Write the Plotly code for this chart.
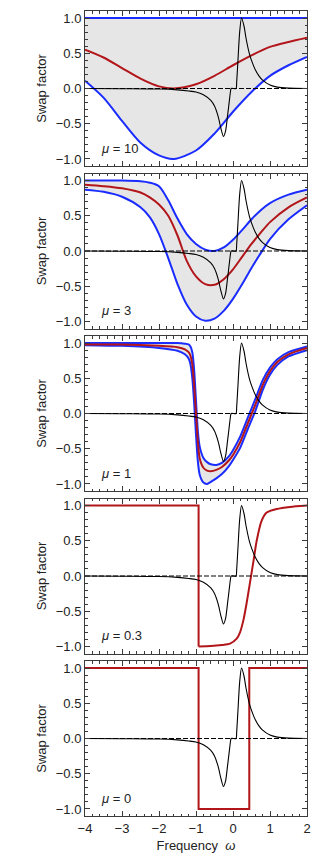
import plotly.graph_objects as go

# ---------------- data ----------------
x_range = [-4, 2]
y_range = [-1.1, 1.1]
x_ticks = [-4, -3, -2, -1, 0, 1, 2]
x_ticklabels = ["−4", "−3", "−2", "−1", "0", "1", "2"]
y_ticks = [-1.0, -0.5, 0.0, 0.5, 1.0]
y_ticklabels = ["−1.0", "−0.5", "0.0", "0.5", "1.0"]
mu_labels = ["10", "3", "1", "0.3", "0"]

# black response curve (same in every panel)
resp_x = [-4, -3, -2, -1.5, -1.2, -1.0, -0.8, -0.6, -0.5, -0.4, -0.33, -0.26, -0.2,
          -0.15, -0.1, -0.07, -0.05, 0.08, 0.1, 0.13, 0.18, 0.23, 0.3, 0.35, 0.44,
          0.5, 0.6, 0.7, 0.8, 1.0, 1.2, 1.5, 2]
resp_y = [0, -0.003, -0.008, -0.02, -0.035, -0.05, -0.09, -0.17, -0.25, -0.4, -0.56,
          -0.68, -0.6, -0.4, -0.18, -0.05, 0, 0, 0.1, 0.36, 0.8, 1.0, 0.88, 0.72, 0.5,
          0.4, 0.27, 0.18, 0.12, 0.05, 0.02, 0.005, 0]

zero_x = [-4, 2]
zero_y = [0, 0]

# mu = 10
m10_x = [-4, -3.5, -3, -2.5, -2, -1.6, -1, -0.5, 0, 0.5, 1, 1.5, 2]
m10_upper = [1, 1, 1, 1, 1, 1, 1, 1, 1, 1, 1, 1, 1]
m10_lower = [0.11, -0.13, -0.46, -0.77, -0.95, -1.0, -0.88, -0.64, -0.33, -0.05, 0.18, 0.33, 0.45]
m10_mid = [0.55, 0.44, 0.29, 0.14, 0.03, 0.0, 0.06, 0.18, 0.33, 0.47, 0.59, 0.66, 0.72]

# mu = 3
m3_x = [-4, -3.5, -3, -2.5, -2.25, -2, -1.75, -1.5, -1.25, -1, -0.75, -0.5, -0.25,
        0, 0.25, 0.5, 0.75, 1, 1.5, 2]
m3_upper = [1.0, 1.0, 1.0, 0.99, 0.97, 0.92, 0.72, 0.46, 0.24, 0.1, 0.02, 0.0, 0.05,
            0.16, 0.3, 0.45, 0.58, 0.68, 0.8, 0.87]
m3_lower = [0.87, 0.84, 0.77, 0.62, 0.48, 0.24, -0.1, -0.47, -0.76, -0.93, -0.99, -0.96,
            -0.85, -0.68, -0.47, -0.24, -0.03, 0.17, 0.45, 0.65]
m3_mid = [0.94, 0.92, 0.89, 0.83, 0.76, 0.66, 0.5, 0.22, -0.14, -0.36, -0.47, -0.48,
          -0.4, -0.26, -0.08, 0.1, 0.26, 0.41, 0.62, 0.76]

# mu = 1
m1_x = [-4, -3, -2, -1.5, -1.3, -1.2, -1.15, -1.1, -1.05, -1.0, -0.95, -0.9, -0.8,
        -0.7, -0.6, -0.45, -0.3, -0.1, 0, 0.2, 0.4, 0.6, 0.8, 1.0, 1.2, 1.5, 2]
m1_upper = [1.0, 1.0, 1.0, 1.0, 0.99, 0.98, 0.95, 0.87, 0.62, 0.18, -0.25, -0.47, -0.63,
            -0.69, -0.72, -0.73, -0.7, -0.6, -0.52, -0.32, -0.06, 0.2, 0.47, 0.65, 0.77,
            0.87, 0.95]
m1_lower = [0.97, 0.96, 0.93, 0.89, 0.84, 0.78, 0.7, 0.5, 0.15, -0.3, -0.68, -0.87, -0.98,
            -1.0, -0.97, -0.92, -0.86, -0.74, -0.66, -0.48, -0.22, 0.03, 0.33, 0.55, 0.69,
            0.81, 0.9]
m1_mid = [0.98, 0.98, 0.96, 0.94, 0.91, 0.87, 0.82, 0.7, 0.4, 0.0, -0.4, -0.64, -0.77,
          -0.81, -0.82, -0.8, -0.76, -0.66, -0.59, -0.4, -0.14, 0.12, 0.4, 0.6, 0.73,
          0.84, 0.93]

# mu = 0.3 (step part and smooth part)
m03_step_x = [-4, -0.93, -0.93]
m03_step_y = [1, 1, -1]
m03_x = [-0.93, -0.6, -0.3, -0.08, 0.1, 0.19, 0.28, 0.37, 0.46, 0.55, 0.64, 0.77, 0.91,
         1.18, 1.54, 2]
m03_y = [-1.0, -0.995, -0.98, -0.96, -0.89, -0.8, -0.63, -0.38, -0.09, 0.2, 0.5, 0.78,
         0.9, 0.95, 0.98, 1.0]

# mu = 0 (rectangular)
m0_x = [-4, -0.93, -0.93, 0.44, 0.44, 2]
m0_y = [1, 1, -1, -1, 1, 1]

# ---------------- styling ----------------
BLUE = "#1a2cff"
RED = "#b2161a"
FILL = "#e6e6e6"
FRAME = "#3a3a3a"
FONT = "Liberation Sans"

n = 5
FIG_W, FIG_H = 321, 853
M_L, M_R, M_T, M_B = 77, 22, 3, 45
plot_h = FIG_H - M_T - M_B
panel_h = 155.0
step = 162.5

fig = go.Figure()


def ax(i):
    return ("x" if i == 0 else f"x{i+1}"), ("y" if i == 0 else f"y{i+1}")


def add(i, x, y, color, width, shape="spline", fill=None, dash=None, smoothing=0.8):
    xa, ya = ax(i)
    line = dict(color=color, width=width, shape=shape)
    if shape == "spline":
        line["smoothing"] = smoothing
    if dash:
        line["dash"] = dash
    kw = dict(x=x, y=y, mode="lines", line=line, xaxis=xa, yaxis=ya,
              showlegend=False, hoverinfo="skip")
    if fill:
        kw["fill"] = fill
        kw["fillcolor"] = FILL
    fig.add_trace(go.Scatter(**kw))


# panel 0: mu = 10
add(0, m10_x, m10_lower, BLUE, 2)
add(0, m10_x, m10_upper, BLUE, 2, fill="tonexty")
add(0, m10_x, m10_mid, RED, 2)
# panel 1: mu = 3
add(1, m3_x, m3_lower, BLUE, 2)
add(1, m3_x, m3_upper, BLUE, 2, fill="tonexty")
add(1, m3_x, m3_mid, RED, 2)
# panel 2: mu = 1
add(2, m1_x, m1_lower, BLUE, 2, smoothing=0.6)
add(2, m1_x, m1_upper, BLUE, 2, fill="tonexty", smoothing=0.6)
add(2, m1_x, m1_mid, RED, 2, smoothing=0.6)
# panel 3: mu = 0.3
add(3, m03_step_x, m03_step_y, RED, 2, shape="linear")
add(3, m03_x, m03_y, RED, 2, smoothing=0.6)
# panel 4: mu = 0
add(4, m0_x, m0_y, RED, 2, shape="linear")

for i in range(n):
    add(i, zero_x, zero_y, "black", 1, shape="linear", dash="5px,2px")
    add(i, resp_x, resp_y, "black", 1.1, smoothing=0.7)

layout = dict(
    width=FIG_W, height=FIG_H,
    margin=dict(l=M_L, r=M_R, t=M_T, b=M_B),
    plot_bgcolor="white", paper_bgcolor="white",
    font=dict(family=FONT, size=13, color="#222"),
)

annotations = []
for i in range(n):
    xa, ya = ax(i)
    top = 1 - i * step / plot_h
    bottom = top - panel_h / plot_h
    xkey = "xaxis" if i == 0 else f"xaxis{i+1}"
    ykey = "yaxis" if i == 0 else f"yaxis{i+1}"
    layout[xkey] = dict(
        range=x_range, anchor=ya, domain=[0, 1],
        tickmode="array", tickvals=x_ticks, ticktext=x_ticklabels,
        showticklabels=(i == n - 1),
        ticks="inside", ticklen=5, tickwidth=1, tickcolor=FRAME,
        minor=dict(dtick=0.2, ticks="inside", ticklen=2.5, tickcolor=FRAME, tickwidth=1),
        showline=True, linecolor=FRAME, linewidth=1, mirror="ticks",
        showgrid=False, zeroline=False,
        tickfont=dict(size=13, color="#222"),
    )
    if i != 0:
        layout[xkey]["matches"] = "x"
    if i == n - 1:
        layout[xkey]["title"] = dict(text="Frequency  <i>ω</i>", font=dict(size=13), standoff=6)
    layout[ykey] = dict(
        range=y_range, anchor=xa, domain=[max(bottom, 0), top],
        tickmode="array", tickvals=y_ticks, ticktext=y_ticklabels,
        ticks="inside", ticklen=5, tickwidth=1, tickcolor=FRAME,
        minor=dict(dtick=0.1, tick0=0, ticks="inside", ticklen=2.5, tickcolor=FRAME, tickwidth=1),
        showline=True, linecolor=FRAME, linewidth=1, mirror="ticks",
        showgrid=False, zeroline=False,
        tickfont=dict(size=13, color="#222"),
        title=dict(text="Swap factor", font=dict(size=13), standoff=6),
    )
    annotations.append(dict(
        x=-3.62, y=-0.85, xref=xa, yref=ya, xanchor="left", yanchor="middle",
        text=f"<i>μ</i> = {mu_labels[i]}", showarrow=False,
        font=dict(size=13, color="#222"),
    ))

layout["annotations"] = annotations
fig.update_layout(**layout)
fig.write_html("out.html")
